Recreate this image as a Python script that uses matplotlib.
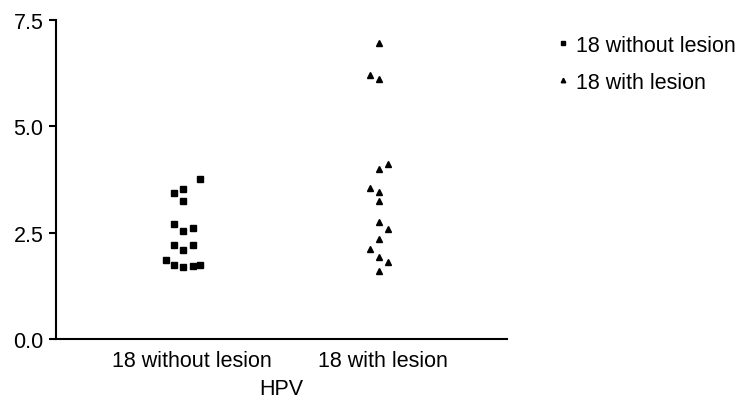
import matplotlib
matplotlib.use("Agg")
import matplotlib.pyplot as plt

# ── Data ──────────────────────────────────────────────────────────────────────

categories = ["18 without lesion", "18 with lesion"]

# group 1: 18 without lesion (square markers)
without_vals = [3.75, 3.43, 3.53, 3.25, 2.71, 2.55, 2.60, 2.21, 2.10, 2.21,
                1.87, 1.74, 1.69, 1.72, 1.74]
without_jitter = [0.042, -0.094, -0.047, -0.047, -0.094, -0.047, 0.005, -0.094,
                  -0.047, 0.005, -0.136, -0.094, -0.047, 0.005, 0.042]

# group 2: 18 with lesion (triangle markers)
with_vals = [6.96, 6.20, 6.12, 4.00, 4.12, 3.55, 3.45, 3.25, 2.75, 2.59,
             2.35, 2.12, 1.92, 1.80, 1.61]
with_jitter = [-0.021, -0.068, -0.021, -0.021, 0.026, -0.068, -0.021, -0.021,
               -0.021, 0.026, -0.021, -0.068, -0.021, 0.026, -0.021]

yticks = [0.0, 2.5, 5.0, 7.5]

# ── Figure ────────────────────────────────────────────────────────────────────

plt.rcParams["font.family"] = ["Liberation Sans", "DejaVu Sans"]

fig = plt.figure(figsize=(7.42, 4.02), dpi=100)
ax = fig.add_axes([0.0755, 0.154, 0.6075, 0.794])

ax.plot([0 + j for j in without_jitter], without_vals, linestyle="none",
        marker="s", markersize=4.5, color="black", label=categories[0])
ax.plot([1 + j for j in with_jitter], with_vals, linestyle="none",
        marker="^", markersize=5, color="black", label=categories[1])

ax.set_xlim(-0.712, 1.649)
ax.set_ylim(0, 7.5)
ax.set_xticks([0, 1])
ax.set_xticklabels(categories)
ax.set_yticks(yticks)
ax.set_yticklabels([f"{t:.1f}" for t in yticks])

ax.spines["top"].set_visible(False)
ax.spines["right"].set_visible(False)
for s in ("left", "bottom"):
    ax.spines[s].set_linewidth(1.5)

ax.tick_params(axis="x", length=0, pad=8, labelsize=15.5)
ax.tick_params(axis="y", length=5, width=1.5, pad=4, labelsize=15.5)
ax.set_xlabel("HPV", fontsize=15.5, labelpad=5)

ax.legend(loc="upper left", bbox_to_anchor=(0.738, 0.9325),
          bbox_transform=fig.transFigure, frameon=False, fontsize=15.5,
          handlelength=0.6, handletextpad=0.3, markerscale=0.65,
          labelspacing=0.75, borderaxespad=0)

fig.savefig("out.png", dpi=100)
